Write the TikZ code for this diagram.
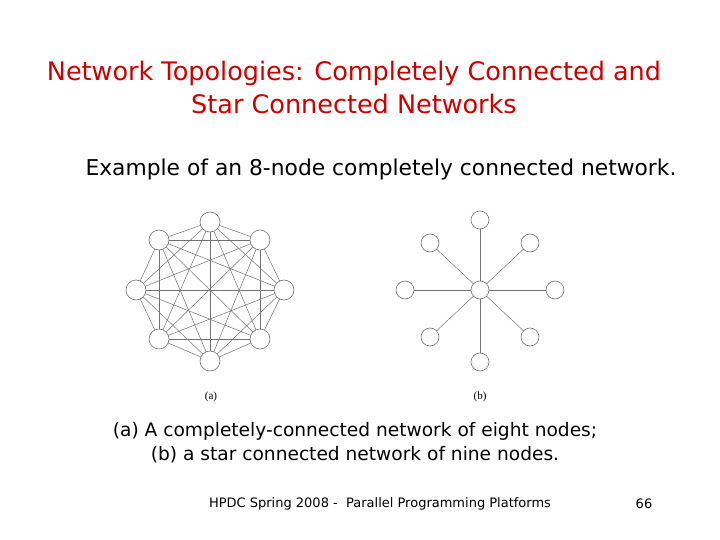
\documentclass[tikz,border=0pt]{standalone}
\usepackage{fontspec}
\setmainfont{DejaVu Sans}
\newfontfamily\serfont{Liberation Serif}
\definecolor{titlered}{HTML}{CC0000}
\definecolor{edge}{gray}{0.45}
\begin{document}
\begin{tikzpicture}[x=1pt,y=-1pt,
  vtx/.style={circle,draw=edge,fill=white,minimum size=20pt,inner sep=0pt,line width=0.6pt},
  svtx/.style={circle,draw=edge,fill=white,minimum size=18pt,inner sep=0pt,line width=0.6pt},
  ed/.style={draw=edge,line width=0.5pt}]
\useasboundingbox (0,0) rectangle (720,540);
\node[text=titlered,font=\fontsize{25.5}{33}\selectfont,align=center] (title) at (354,87) {Network Topologies: Completely Connected and\\Star Connected Networks};
\node[font=\fontsize{21.8}{24}\selectfont] (sub) at (381,169) {Example of an 8-node completely connected network.};
% complete graph
\foreach \n/\x/\y in {a1/210/222,a2/260/240,a3/284/290,a4/260/339,a5/210/361,a6/159/339,a7/136/290,a8/159/240}
  \coordinate (\n) at (\x,\y);
\foreach \i in {1,...,8}{\foreach \j in {1,...,8}{\ifnum\i<\j \draw[ed] (a\i) -- (a\j);\fi}}
\foreach \i in {1,...,8} \node[vtx] (na\i) at (a\i) {};
% star
\node[svtx] (c) at (480,290) {};
\foreach \n/\x/\y in {b1/480/220,b2/530/243,b3/555/290,b4/530/337,b5/480/362,b6/430/337,b7/405/290,b8/430/243}{
  \node[svtx] (\n) at (\x,\y) {};
  \draw[ed] (c) -- (\n);}
\node[font=\serfont\fontsize{11}{12}\selectfont] (la) at (211,397) {(a)};
\node[font=\serfont\fontsize{11}{12}\selectfont] (lb) at (480,397) {(b)};
\node[font=\fontsize{18.6}{24}\selectfont,align=center] (cap) at (355,443) {(a) A completely-connected network of eight nodes;\\(b) a star connected network of nine nodes.};
\node[font=\fontsize{13}{15}\selectfont] (foot) at (380,504) {HPDC Spring 2008 -\ \ Parallel Programming Platforms};
\node[font=\fontsize{13}{15}\selectfont] (pg) at (644,504) {66};
\end{tikzpicture}
\end{document}
